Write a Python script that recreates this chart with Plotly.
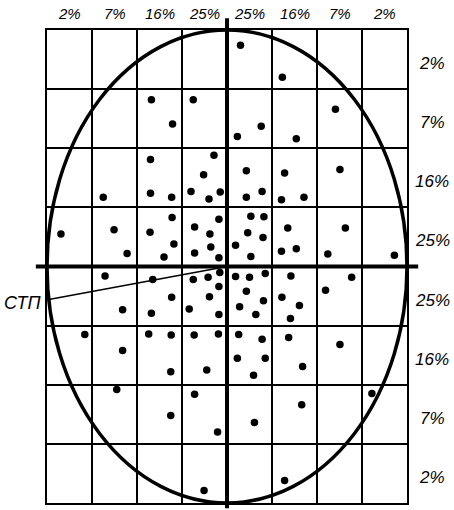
import plotly.graph_objects as go

# Impact points (grid-cell units; one cell = one probable deviation)
pts_x = [0.30, 1.23, -1.68, -0.75, 2.41, -1.21, 0.76, 0.23, 1.54, -1.70,
         -0.29, 0.43, 2.51, -0.52, 1.28, -2.75, -1.70, -1.23, -0.80, -0.40,
         -0.15, 0.43, 0.78, 1.21, 1.71, -1.22, -0.18, 0.53, 0.82, -3.69,
         -2.51, -1.71, -0.72, -0.38, 0.46, 0.80, 1.35, 2.63, -1.18, -0.36,
         0.19, -2.22, -1.40, -0.72, -0.18, 0.53, 1.21, 1.54, 2.24, 3.72,
         -2.71, -1.65, -0.75, -0.42, -0.16, 0.19, 0.50, 0.85, 1.42, 2.77,
         -0.18, 0.43, -0.39, -1.23, 2.19, -2.32, -1.68, -0.84, 0.28, 0.81,
         1.22, 1.61, -0.18, 0.64, 1.41, -3.16, -1.74, -1.24, -0.73, -0.19,
         0.26, 0.78, 1.37, 2.51, -2.32, 0.23, 0.85, -1.25, -0.45, 0.59,
         1.68, -2.45, -0.72, 3.22, 1.66, -1.25, 0.61, -0.21, 1.28, -0.51]
pts_y = [3.74, 3.20, 2.82, 2.82, 2.66, 2.41, 2.37, 2.20, 2.16, 1.81,
         1.88, 1.62, 1.64, 1.55, 1.58, 1.17, 1.24, 1.17, 1.27, 1.14,
         1.26, 1.17, 1.27, 1.13, 1.17, 0.83, 0.80, 0.85, 0.84, 0.55,
         0.62, 0.58, 0.67, 0.55, 0.57, 0.49, 0.65, 0.65, 0.38, 0.33,
         0.36, 0.22, 0.16, 0.23, 0.15, 0.17, 0.26, 0.30, 0.21, 0.19,
         -0.16, -0.22, -0.22, -0.18, -0.10, -0.17, -0.18, -0.12, -0.16, -0.18,
         -0.34, -0.42, -0.51, -0.52, -0.40, -0.73, -0.79, -0.72, -0.68, -0.58,
         -0.52, -0.66, -0.81, -0.81, -0.88, -1.15, -1.14, -1.16, -1.16, -1.14,
         -1.15, -1.23, -1.20, -1.32, -1.42, -1.55, -1.55, -1.78, -1.75, -1.84,
         -1.69, -2.08, -2.16, -2.15, -2.34, -2.52, -2.64, -2.80, -3.62, -3.79]

# Band labels (percent of hits per probable-deviation band)
col_labels = ["2%", "7%", "16%", "25%", "25%", "16%", "7%", "2%"]
col_centers = [-3.5, -2.5, -1.5, -0.5, 0.5, 1.5, 2.5, 3.5]
row_labels = ["2%", "7%", "16%", "25%", "25%", "16%", "7%", "2%"]
row_centers = [3.5, 2.5, 1.5, 0.5, -0.5, -1.5, -2.5, -3.5]

# Mean point of impact (СТП) pointer: from ellipse edge to centre
stp_label = "СТП"
stp_from = (-3.96, -0.56)
stp_to = (0.0, 0.0)

half = 4  # semi-axes of dispersion ellipse in cells

top_font = dict(family="Liberation Sans", size=15, color="black", style="italic")
side_font = dict(family="Liberation Sans", size=17, color="black", style="italic")

fig = go.Figure()
fig.add_trace(go.Scatter(x=pts_x, y=pts_y, mode="markers",
                         marker=dict(size=7.5, color="black"),
                         hoverinfo="skip", showlegend=False))

# dispersion ellipse
fig.add_shape(type="circle", xref="x", yref="y", x0=-half, x1=half, y0=-half, y1=half,
              line=dict(color="black", width=3.5))
# extended main axes (crossing at centre)
fig.add_shape(type="line", xref="paper", yref="paper", x0=-0.031, x1=1.031, y0=0.5, y1=0.5,
              line=dict(color="black", width=4))
fig.add_shape(type="line", xref="paper", yref="paper", x0=0.5, x1=0.5, y0=-0.011, y1=1.025,
              line=dict(color="black", width=4))
# СТП pointer line
fig.add_shape(type="line", xref="x", yref="y", x0=stp_from[0], y0=stp_from[1],
              x1=stp_to[0], y1=stp_to[1], line=dict(color="black", width=1.5))

for xc, t in zip(col_centers, col_labels):
    fig.add_annotation(x=xc, xref="x", y=1.034, yref="paper", text=t, showarrow=False,
                       font=top_font, xanchor="center", yanchor="middle")
for yc, t in zip(row_centers, row_labels):
    fig.add_annotation(x=1.07, xref="paper", y=yc, yref="y", text=t, showarrow=False,
                       font=side_font, xanchor="center", yanchor="middle", yshift=-4)
fig.add_annotation(x=-half, xref="x", y=stp_from[1], yref="y", text=stp_label, showarrow=False,
                   font=dict(family="Liberation Sans", size=18, color="black", style="italic"),
                   xanchor="right", yanchor="middle", xshift=-4, yshift=-3)

axis_common = dict(range=[-half, half], dtick=1, tick0=0, showgrid=True, gridcolor="black",
                   gridwidth=2, showline=True, linecolor="black", linewidth=2, mirror=True,
                   zeroline=False, showticklabels=False, ticks="", fixedrange=True)
fig.update_xaxes(**axis_common)
fig.update_yaxes(**axis_common)

fig.update_layout(width=454, height=510, margin=dict(l=47, r=47, t=30, b=7),
                  paper_bgcolor="white", plot_bgcolor="white", showlegend=False)

fig.write_html("out.html")
